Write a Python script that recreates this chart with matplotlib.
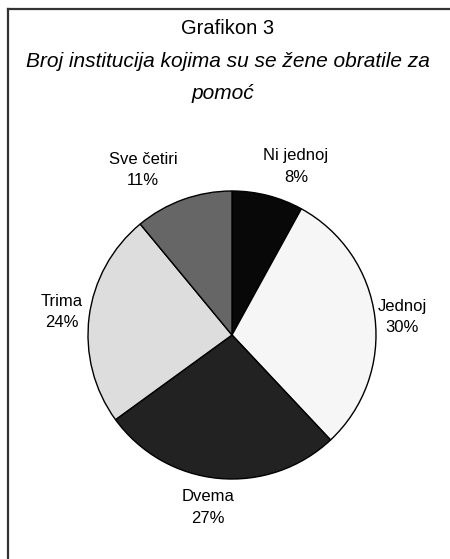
import numpy as np
import matplotlib
matplotlib.use("Agg")
import matplotlib.pyplot as plt
from matplotlib.lines import Line2D

categories = ["Ni jednoj", "Jednoj", "Dvema", "Trima", "Sve četiri"]
shares = [8, 30, 27, 24, 11]
colors = ["#080808", "#f6f6f6", "#222222", "#dddddd", "#666666"]
# label placement: distance in pie radii and small angle nudge (deg) from wedge middle
label_dist = [1.25, 1.19, 1.21, 1.19, 1.30]
label_nudge = [-6.4, -1.2, -2.5, -0.5, 8.5]

plt.rcParams['font.family'] = ['Liberation Sans', 'DejaVu Sans']

W, H = 450, 559
fig = plt.figure(figsize=(W / 100, H / 100), dpi=100)

# frame: only left and top edge are visible in the original
fig.add_artist(Line2D([7.5 / W, 7.5 / W], [0, 1 - 9 / H], transform=fig.transFigure,
                      color="#333333", lw=1.6))
fig.add_artist(Line2D([7.5 / W, 1], [1 - 9 / H, 1 - 9 / H], transform=fig.transFigure,
                      color="#333333", lw=1.6))

fig.text(228 / W, 1 - 34 / H, "Grafikon 3", ha="center", va="baseline", fontsize=14.5)
fig.text(228 / W, 1 - 67 / H, "Broj institucija kojima su se žene obratile za",
         ha="center", va="baseline", fontsize=15, style="italic")
fig.text(223 / W, 1 - 99 / H, "pomoć", ha="center", va="baseline", fontsize=15,
         style="italic")

# pie centre ~ (232, 335) px, radius ~144 px
cx, cy, r = 232, 335, 144
half = 200
ax = fig.add_axes([(cx - half) / W, 1 - (cy + half) / H, 2 * half / W, 2 * half / H])
wedges, _ = ax.pie(shares, colors=colors, startangle=90, counterclock=False,
                   wedgeprops=dict(edgecolor="black", linewidth=1.0))
lim = half / r
ax.set_xlim(-lim, lim)
ax.set_ylim(-lim, lim)
ax.set_aspect("equal")
ax.axis("off")

total = sum(shares)
for w, name, val, d, nudge in zip(wedges, categories, shares, label_dist, label_nudge):
    mid = np.deg2rad((w.theta1 + w.theta2) / 2 + nudge)
    x, y = d * np.cos(mid), d * np.sin(mid)
    ax.text(x, y, f"{name}\n{round(100 * val / total)}%", ha="center", va="center",
            fontsize=12, linespacing=1.55)

fig.savefig("out.png", dpi=100)
